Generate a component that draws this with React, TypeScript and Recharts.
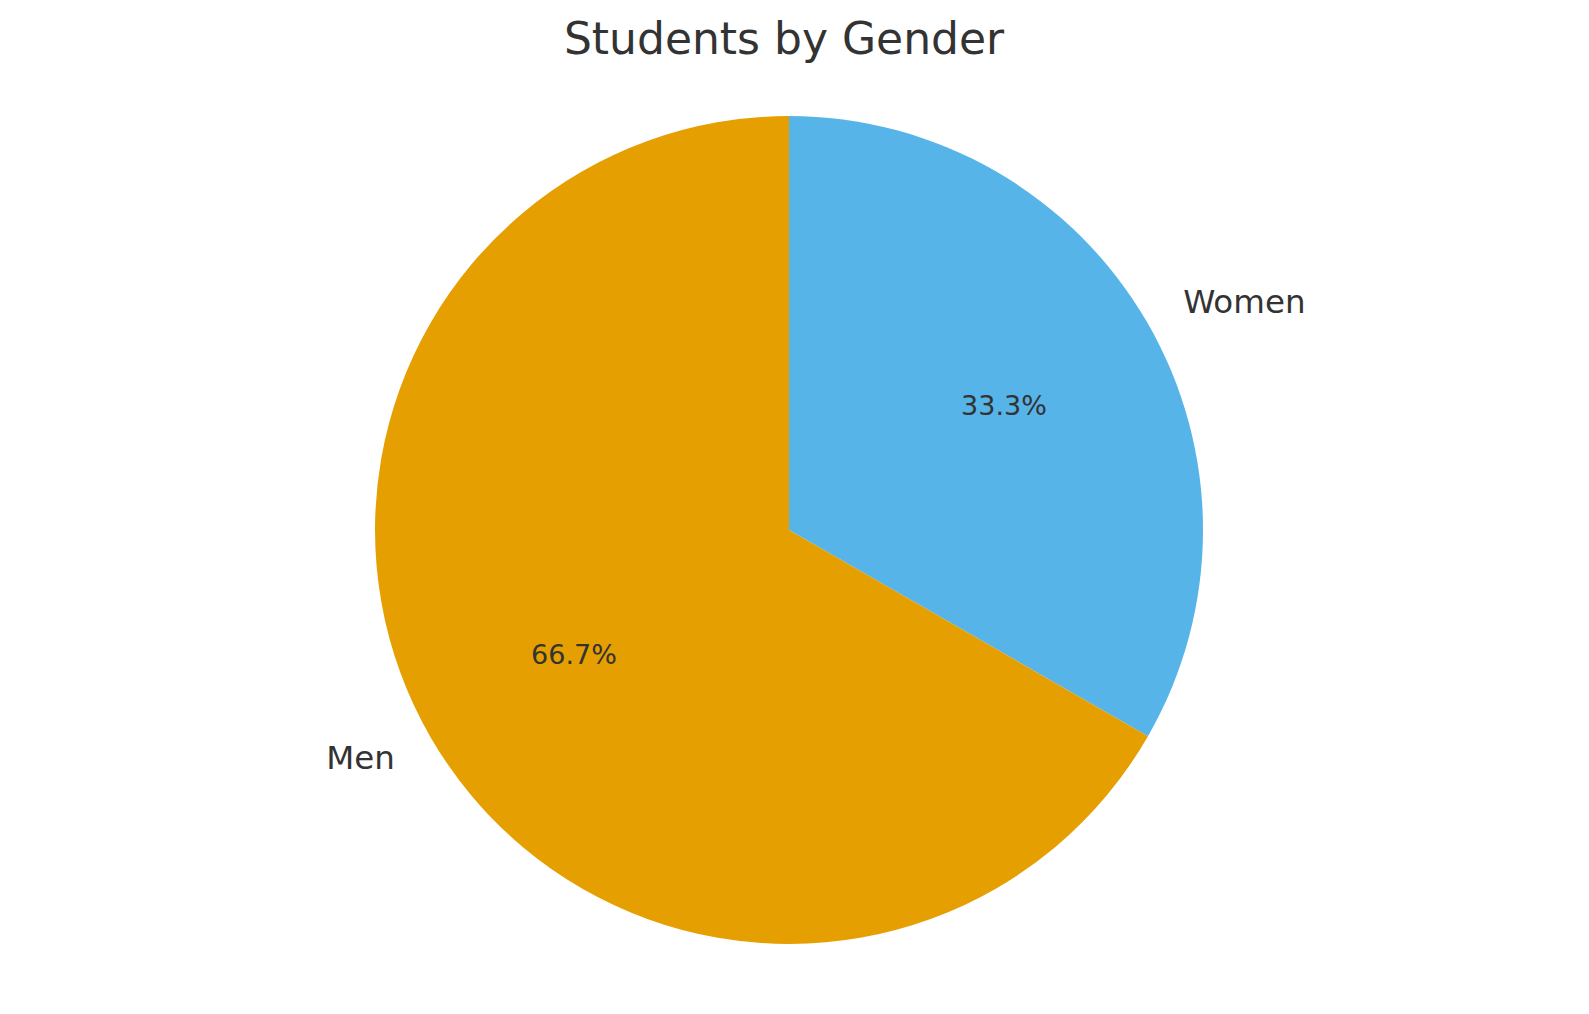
import { Cell, Pie, PieChart } from "recharts";

const CATEGORIES = ["Women", "Men"];
const SHARES = [33.3, 66.7];
const COLOURS = ["#56B4E9", "#E69F00"];

const TEXT = "#333333";
const FONT = "'DejaVu Sans', sans-serif";
const RAD = Math.PI / 180;

const data = CATEGORIES.map((name, i) => ({ name, value: SHARES[i] }));

function renderLabel(props: any) {
  const { cx, cy, midAngle, outerRadius, percent, name } = props;
  const cos = Math.cos(-midAngle * RAD);
  const sin = Math.sin(-midAngle * RAD);
  const lx = cx + outerRadius * 1.1 * cos;
  const ly = cy + outerRadius * 1.1 * sin;
  const px = cx + outerRadius * 0.6 * cos;
  const py = cy + outerRadius * 0.6 * sin;
  return (
    <g>
      <text
        x={lx}
        y={ly}
        fill={TEXT}
        fontSize={32.5}
        fontFamily={FONT}
        textAnchor={cos >= 0 ? "start" : "end"}
        dominantBaseline="central"
      >
        {name}
      </text>
      <text
        x={px}
        y={py}
        fill={TEXT}
        fontSize={27}
        fontFamily={FONT}
        textAnchor="middle"
        dominantBaseline="central"
      >
        {`${(percent * 100).toFixed(1)}%`}
      </text>
    </g>
  );
}

export default function App() {
  return (
    <div style={{ position: "absolute", top: 0, left: 0, width: 1589, height: 1014, background: "#fff", overflow: "hidden" }}>
      <style>{`html, body { margin: 0; overflow: hidden; }`}</style>
      <div
        style={{
          position: "absolute",
          top: 12,
          left: 0,
          width: 1568,
          textAlign: "center",
          fontFamily: FONT,
          fontSize: 44,
          color: TEXT,
          lineHeight: "54px",
        }}
      >
        Students by Gender
      </div>
      <PieChart width={1589} height={1014}>
        <Pie
          data={data}
          dataKey="value"
          nameKey="name"
          cx={784}
          cy={525}
          outerRadius={414}
          startAngle={90}
          endAngle={-270}
          stroke="none"
          label={renderLabel}
          labelLine={false}
          isAnimationActive={false}
        >
          {data.map((d, i) => (
            <Cell key={d.name} fill={COLOURS[i]} />
          ))}
        </Pie>
      </PieChart>
    </div>
  );
}
